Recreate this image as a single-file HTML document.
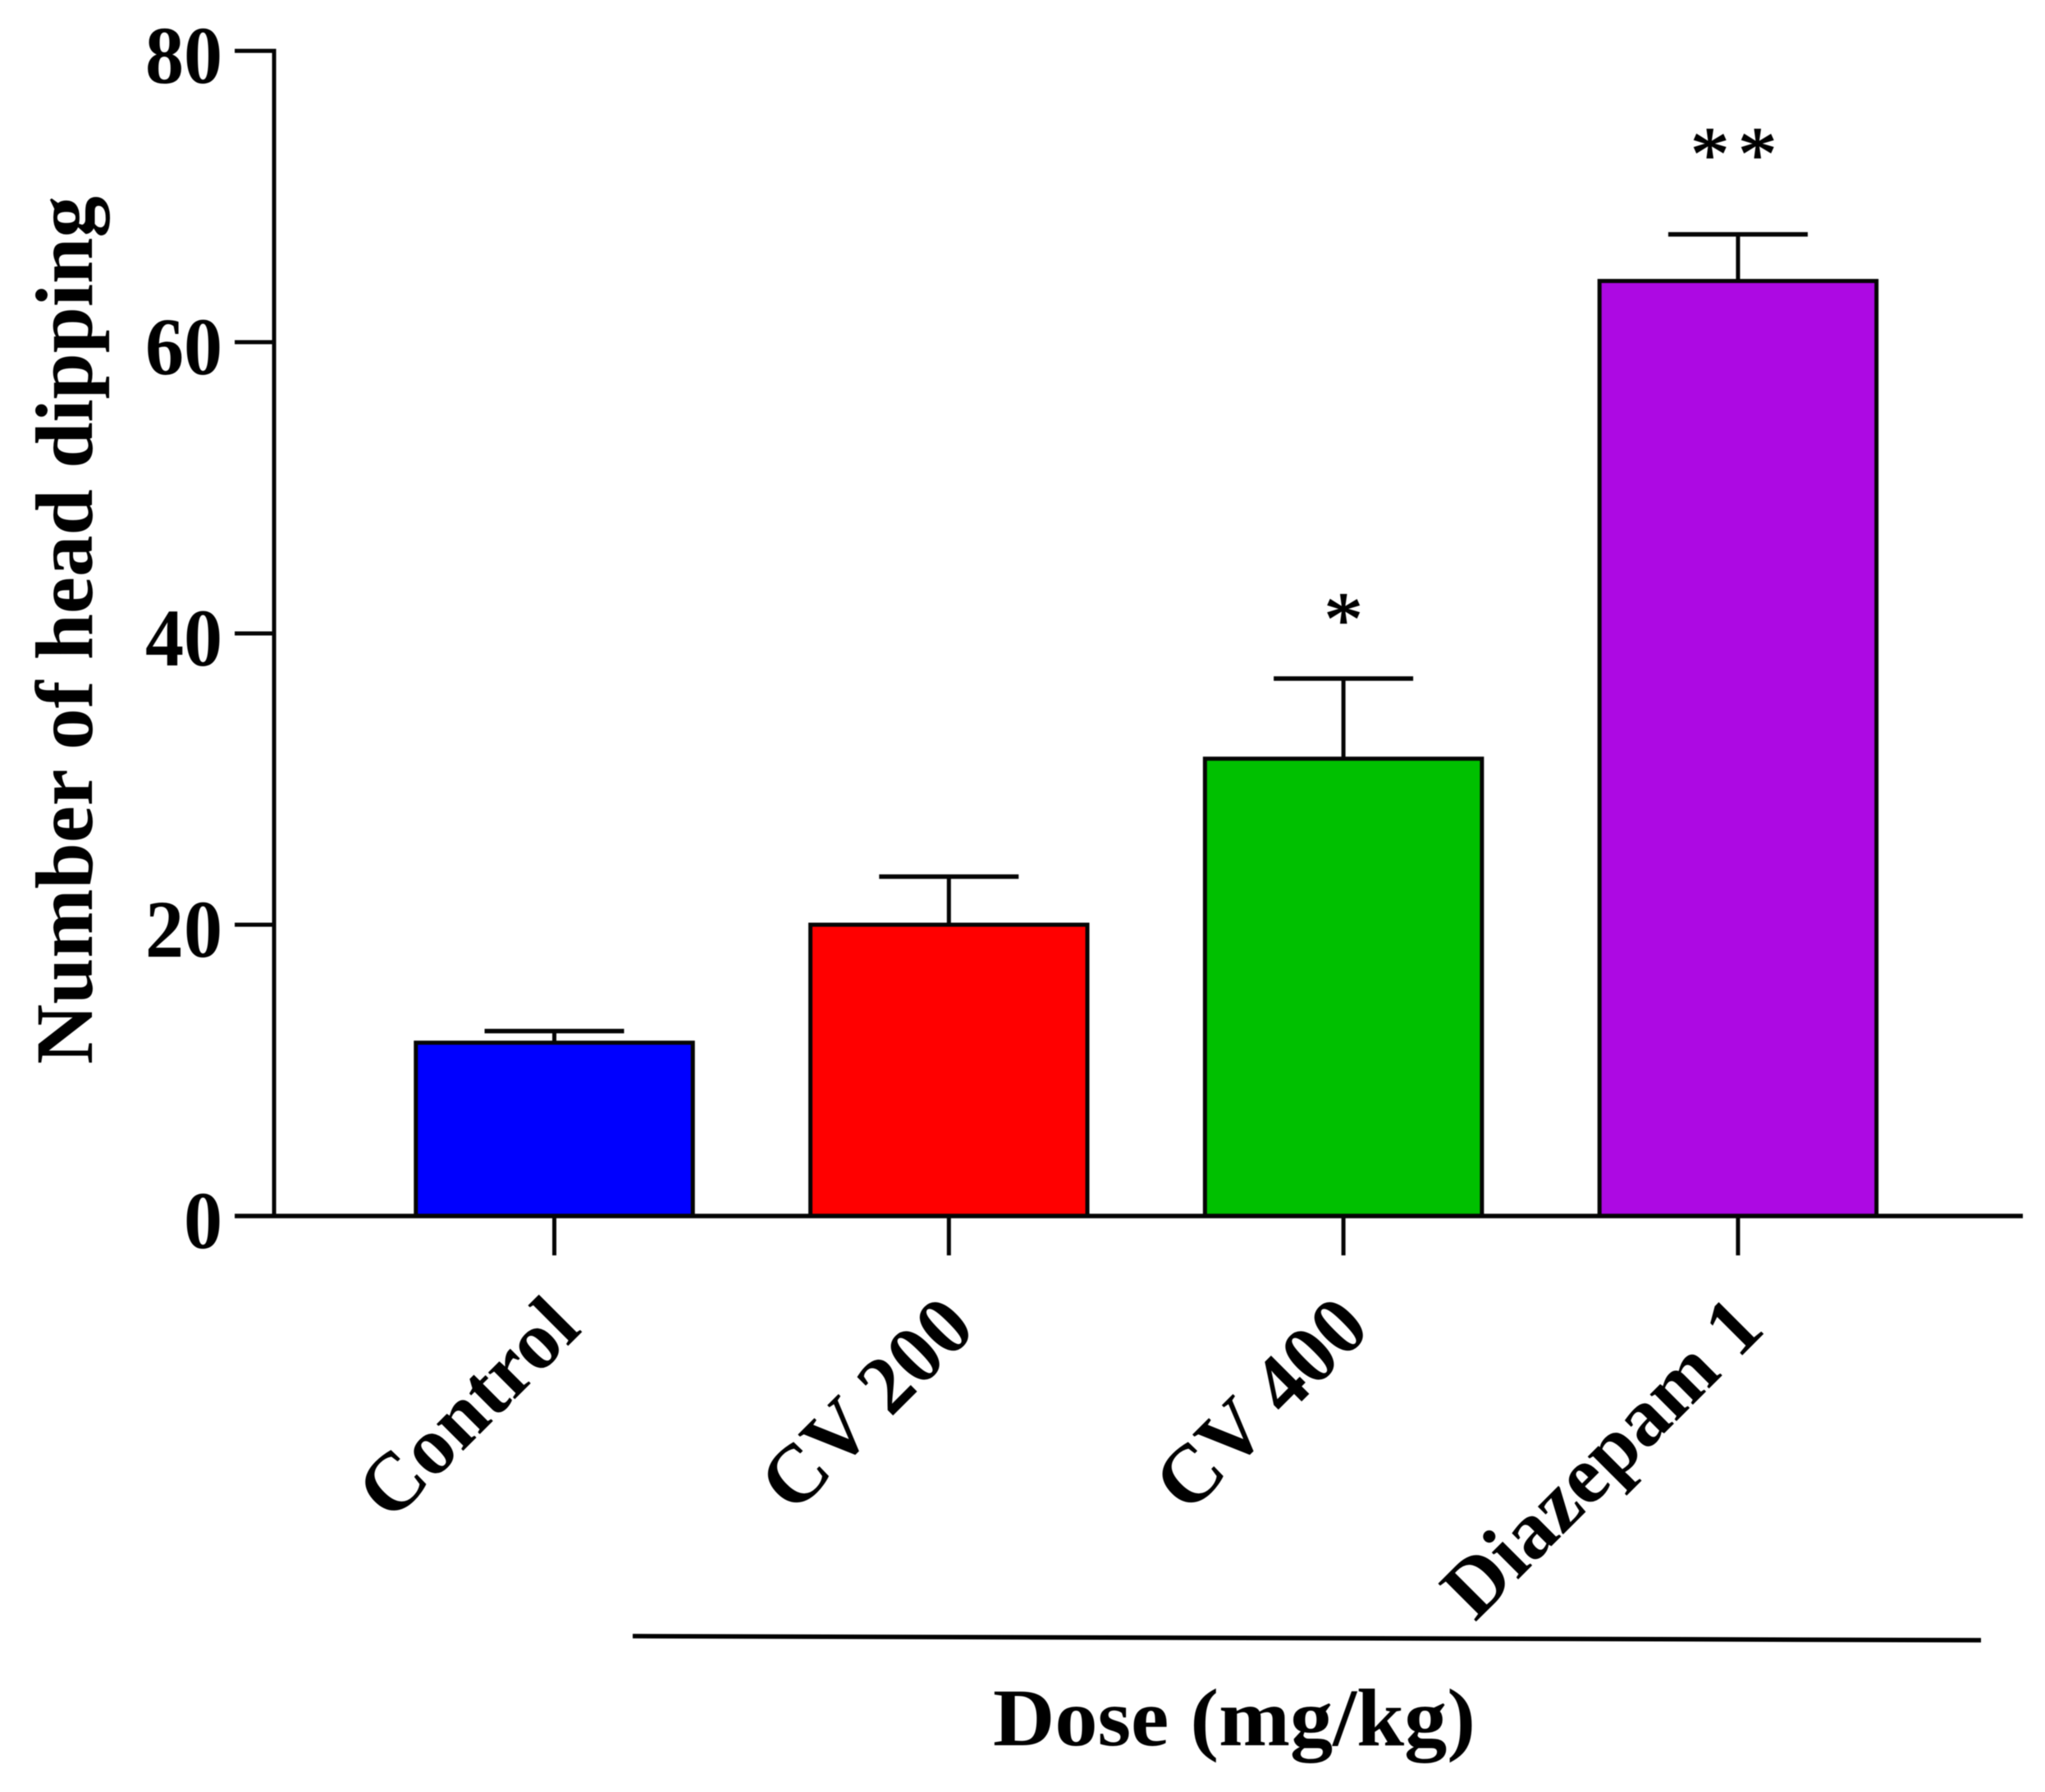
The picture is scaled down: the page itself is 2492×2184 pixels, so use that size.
<!DOCTYPE html>
<html lang="en">
<head>
<meta charset="utf-8">
<title>Number of head dipping by dose</title>
<style>
  html, body { margin: 0; padding: 0; background: #fff; }
  svg { display: block; }
  text { font-family: "Liberation Serif", serif; fill: #000; }
  .bold { font-weight: 700; font-size: 100px; }
  #plot { filter: blur(0.6px); }
</style>
</head>
<body>
<svg id="chart" xmlns="http://www.w3.org/2000/svg" width="2492" height="2184" viewBox="0 0 2492 2184">
  <rect x="0" y="0" width="2492" height="2184" fill="#ffffff"/>
  <g id="plot">
    <text class="bold" transform="translate(112 1297) rotate(-90)" textLength="1058" lengthAdjust="spacingAndGlyphs">Number of head dipping</text>
    <text class="bold" x="1210" y="2127" textLength="588" lengthAdjust="spacingAndGlyphs">Dose (mg/kg)</text>
    <line x1="771" y1="1994" x2="2414" y2="1999" stroke="#000" stroke-width="5.5"/>
    <g id="marks"></g>
  </g>
</svg>
<script>
const categories = ["Control", "CV 200", "CV 400", "Diazepam 1"];
const meanValues = [11.9, 20.0, 31.4, 64.2];
const errorValues = [0.8, 3.3, 5.5, 3.2];
const barColors = ["#0000ff", "#ff0000", "#00c000", "#ad09e3"];
const yTicks = [0, 20, 40, 60, 80];
const significance = ["", "", "*", "**"];
const significanceLevels = [0, 0, 41.85, 73.8];

const SVG_NS = "http://www.w3.org/2000/svg";
const marks = document.getElementById("marks");
const axisX = 334, baseY = 1482, unitPx = 17.75;
const firstCenter = 675.5, step = 480.8, barWidth = 337.5;
function yScale(v) { return baseY - v * unitPx; }
function xScale(i) { return firstCenter + i * step; }
function make(tag, attrs) {
  const el = document.createElementNS(SVG_NS, tag);
  for (const k in attrs) el.setAttribute(k, attrs[k]);
  marks.appendChild(el);
  return el;
}
const STROKE = "#050505";

categories.forEach(function (name, i) {
  const cx = xScale(i);
  const top = yScale(meanValues[i]);
  const errTop = yScale(meanValues[i] + errorValues[i]);

  const stem = make("line", { x1: cx, y1: top, x2: cx, y2: errTop, stroke: STROKE, "stroke-width": 5 });
  
  

  const cap = make("line", { x1: cx - 85, y1: errTop, x2: cx + 85, y2: errTop, stroke: STROKE, "stroke-width": 5.5 });
  
  

  const bar = make("rect", { x: cx - barWidth / 2, y: top, width: barWidth, height: baseY - top, fill: barColors[i], stroke: STROKE, "stroke-width": 5 });
  
  

  const tick = make("line", { x1: cx, y1: baseY, x2: cx, y2: baseY + 48, stroke: STROKE, "stroke-width": 5 });
  
  

  const label = make("text", { class: "bold", "text-anchor": "end", transform: "translate(" + (cx + 35) + " 1622) rotate(-45)" });
  label.textContent = name;
  
  

  if (significance[i]) {
    const star = make("text", { x: cx, y: yScale(significanceLevels[i]) + 48, "text-anchor": "middle", "font-size": 95, "letter-spacing": significance[i].length > 1 ? 10.5 : 0, stroke: "#000", "stroke-width": 1.2 });
    star.textContent = significance[i];
    
    
  }
});

const yAxis = make("line", { x1: axisX, y1: yScale(80) - 2.5, x2: axisX, y2: baseY, stroke: STROKE, "stroke-width": 5 });



const xAxis = make("line", { x1: 286, y1: baseY, x2: 2465, y2: baseY, stroke: STROKE, "stroke-width": 5.5 });



yTicks.forEach(function (t) {
  const y = yScale(t);
  const tick = make("line", { x1: 286, y1: y, x2: axisX, y2: y, stroke: STROKE, "stroke-width": 5 });
  
  

  const text = String(t);
  const label = make("text", { class: "bold", x: 271 - text.length * 47, y: y + 39, textLength: text.length * 47, lengthAdjust: "spacingAndGlyphs" });
  label.textContent = text;
  
  
});
</script>
</body>
</html>
